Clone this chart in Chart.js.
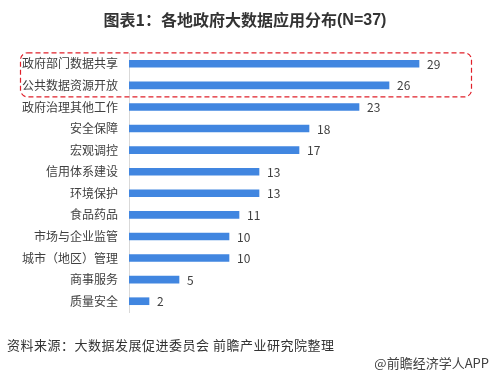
<!DOCTYPE html>
<html>
<head>
<meta charset="utf-8">
<script src="https://cdn.jsdelivr.net/npm/chart.js@4/dist/chart.umd.min.js"></script>
<style>
  html, body { margin: 0; padding: 0; background: #fff; }
  #wrap { width: 490px; height: 378px; position: relative; }
</style>
</head>
<body>
<div id="wrap"><canvas id="chart"></canvas></div>
<script>
const categories = [
  "政府部门数据共享", "公共数据资源开放", "政府治理其他工作", "安全保障",
  "宏观调控", "信用体系建设", "环境保护", "食品药品",
  "市场与企业监管", "城市（地区）管理", "商事服务", "质量安全"
];
const counts = [29, 26, 23, 18, 17, 13, 13, 11, 10, 10, 5, 2];

const titleText = "图表1：各地政府大数据应用分布";
const titleSuffix = "(N=37)";
const sourceText = "资料来源：大数据发展促进委员会 前瞻产业研究院整理";
const brandText = "@前瞻经济学人APP";

const cjk = '"Noto Sans CJK SC", "Microsoft YaHei", sans-serif';

const extras = {
  id: "extras",
  afterDraw(chart) {
    const ctx = chart.ctx;
    const meta = chart.getDatasetMeta(0);
    ctx.save();

    // title
    ctx.font = "bold 16px " + cjk;
    ctx.textBaseline = "middle";
    const w1 = ctx.measureText(titleText).width;
    ctx.font = 'bold 16px "Liberation Sans", Arial, sans-serif';
    const w2 = ctx.measureText(titleSuffix).width;
    let tx = 245 - (w1 + w2) / 2;
    ctx.fillStyle = "#333333";
    ctx.font = "bold 16px " + cjk;
    ctx.fillText(titleText, tx, 20);
    ctx.font = 'bold 16px "Liberation Sans", Arial, sans-serif';
    ctx.fillText(titleSuffix, tx + w1, 21);

    // value labels
    ctx.font = "12px " + cjk;
    ctx.fillStyle = "#404040";
    ctx.textAlign = "left";
    meta.data.forEach((bar, i) => {
      ctx.fillText(String(counts[i]), bar.x + 8, bar.y + 0.5);
    });

    // dashed highlight box around the first two categories
    const y = chart.scales.y;
    const top = y.getPixelForValue(0) - 11;
    const bottom = y.getPixelForValue(1) + 11.5;
    ctx.strokeStyle = "#e0202a";
    ctx.lineWidth = 1.2;
    ctx.setLineDash([5, 3]);
    ctx.beginPath();
    ctx.roundRect(20.5, top, 451, bottom - top, 7);
    ctx.stroke();
    ctx.setLineDash([]);

    // footer notes
    ctx.fillStyle = "#333333";
    ctx.font = "13px " + cjk;
    ctx.letterSpacing = "0.5px";
    ctx.fillText(sourceText, 7, 345);
    ctx.letterSpacing = "0px";
    ctx.textAlign = "right";
    ctx.fillStyle = "#404040";
    ctx.fillText(brandText, 489, 363);
    ctx.restore();
  }
};

new Chart(document.getElementById("chart"), {
  type: "bar",
  data: {
    labels: categories,
    datasets: [{
      data: counts,
      backgroundColor: "#4186e0",
      barThickness: 7,
      borderWidth: 0
    }]
  },
  options: {
    indexAxis: "y",
    responsive: true,
    maintainAspectRatio: false,
    animation: false,
    layout: { padding: { top: 53, bottom: 66, left: 0, right: 11 } },
    plugins: {
      legend: { display: false },
      tooltip: { enabled: false }
    },
    scales: {
      x: {
        display: false,
        min: 0,
        max: 35
      },
      y: {
        afterFit(scale) { scale.width = 129; },
        grid: { display: false, drawTicks: false },
        border: { display: true, color: "#d9d9d9", width: 1 },
        ticks: {
          padding: 11,
          color: "#404040",
          font: { family: cjk, size: 12 }
        }
      }
    }
  },
  plugins: [extras]
});
</script>
</body>
</html>
